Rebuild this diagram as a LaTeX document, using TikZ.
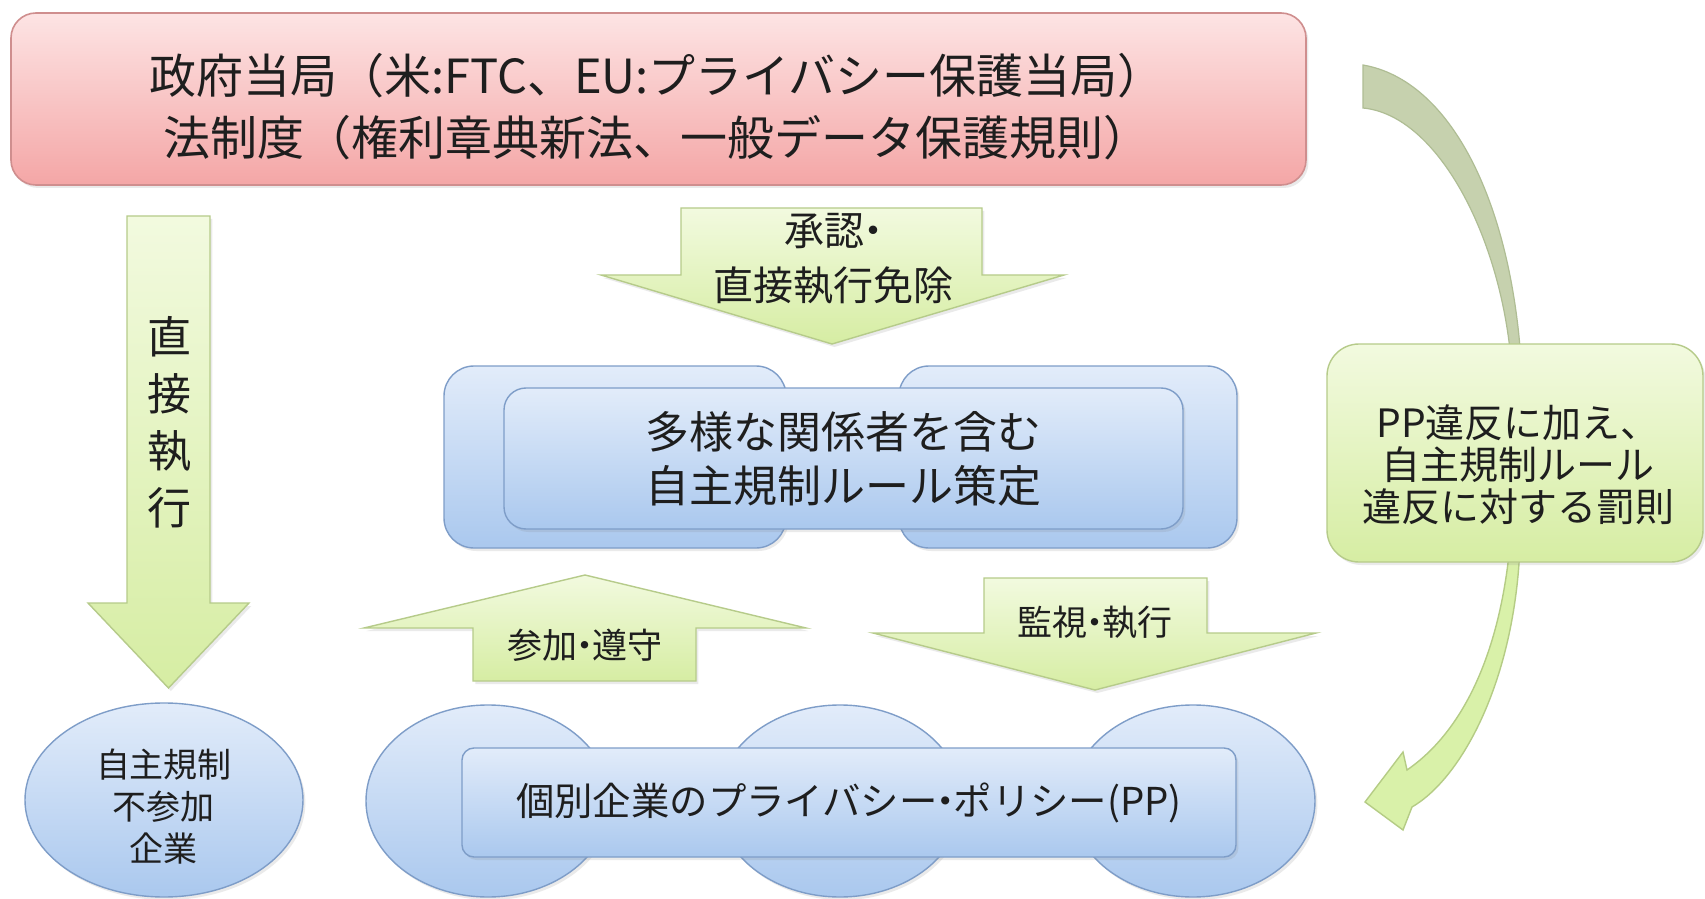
\documentclass[tikz,border=0pt]{standalone}
\usepackage{fontspec}
\setmainfont{Noto Sans CJK JP}
\usetikzlibrary{shapes.geometric,shadows}

\definecolor{pinkT}{HTML}{FDE4E4}
\definecolor{pinkB}{HTML}{F4A6A6}
\definecolor{pinkD}{HTML}{CF8E8E}
\definecolor{grnT}{HTML}{F2FADF}
\definecolor{grnB}{HTML}{D6EDA3}
\definecolor{grnD}{HTML}{B6CB8A}
\definecolor{bluT}{HTML}{E2ECFA}
\definecolor{bluB}{HTML}{AAC8EE}
\definecolor{bluD}{HTML}{7E9DC8}
\definecolor{crvT}{HTML}{C6D1AE}
\definecolor{crvTD}{HTML}{AFBD94}
\definecolor{crvB}{HTML}{D9F1A9}
\definecolor{crvBD}{HTML}{B5CC85}
\definecolor{txt}{HTML}{1E1E1E}

\newcommand{\ndot}{\makebox[0.42em][c]{・}}

\tikzset{
  shd/.style={drop shadow={shadow xshift=1.2pt,shadow yshift=-1.5pt,opacity=0.16}},
  pinkbox/.style={draw=pinkD, line width=0.8pt, top color=pinkT, bottom color=pinkB, rounded corners=12.5pt, shd},
  bluebox/.style={draw=bluD, line width=0.7pt, top color=bluT, bottom color=bluB, shd},
  grnshape/.style={draw=grnD, line width=0.7pt, top color=grnT, bottom color=grnB, shd},
  lbl/.style={text=txt, align=center, inner sep=0pt},
}

\begin{document}
\begin{tikzpicture}[x=0.5pt,y=-0.5pt]
\useasboundingbox[fill=white] (0,0) rectangle (1705,899);

% government box
\node[pinkbox, minimum width=647.5pt, minimum height=86pt] (gov) at (658.5,99) {};
\node[lbl, font=\fontsize{23.5pt}{31pt}\selectfont] (govtext) at (657,107)
  {政府当局（米:FTC、EU:プライバシー保護当局）\\法制度（権利章典新法、一般データ保護規則）};

% curved arrow (upper part, greyish)
\fill[crvT, draw=crvTD, line width=0.6pt]
  (1363,65) .. controls (1450,80) and (1510,200) .. (1521,360)
  -- (1511,360) .. controls (1500,235) and (1437,115) .. (1363,108) -- cycle;
% curved arrow (lower part, with head)
\fill[crvB, draw=crvBD, line width=0.7pt]
  (1510,545) .. controls (1500,650) and (1465,730) .. (1407,770)
  -- (1403,752) -- (1365,802) -- (1403,830) -- (1412,807)
  .. controls (1462,778) and (1515,680) .. (1520,545) -- cycle;

% direct enforcement arrow
\draw[grnshape] (127,216) -- (210,216) -- (210,603) -- (249,603) -- (168.5,688)
  -- (88,603) -- (127,603) -- cycle;
\node[lbl, font=\fontsize{22pt}{28.5pt}\selectfont] (direct) at (169,422) {直\\接\\執\\行};

% approval arrow
\draw[grnshape] (681,208) -- (982,208) -- (982,275) -- (1064,275) -- (832,344)
  -- (601,275) -- (681,275) -- cycle;
\node[lbl, font=\fontsize{20pt}{27.5pt}\selectfont] (approve) at (833,259) {承認\ndot\\直接執行免除};

% self-regulation group
\node[bluebox, rounded corners=15pt, minimum width=171pt, minimum height=91pt] (srL) at (615,457) {};
\node[bluebox, rounded corners=15pt, minimum width=169pt, minimum height=91pt] (srR) at (1068,457) {};
\node[bluebox, rounded corners=11pt, minimum width=339.5pt, minimum height=70.5pt,
      lbl, font=\fontsize{22pt}{27pt}\selectfont] (sr) at (843.5,458.5)
  {多様な関係者を含む\\自主規制ルール策定};

% participation arrow (up)
\draw[grnshape] (473,681) -- (473,628) -- (364,628) -- (585,575) -- (806,628)
  -- (696,628) -- (696,681) -- cycle;
\node[lbl, font=\fontsize{17.5pt}{20pt}\selectfont] (join) at (585,645) {参加\ndot 遵守};

% monitoring arrow (down)
\draw[grnshape] (984,578) -- (1207,578) -- (1207,633) -- (1316,633) -- (1095,690)
  -- (873,633) -- (984,633) -- cycle;
\node[lbl, font=\fontsize{17.5pt}{20pt}\selectfont] (monitor) at (1095,622) {監視\ndot 執行};

% non-participating companies
\node[ellipse, bluebox, minimum width=139pt, minimum height=97pt] (nonpart) at (164,800) {};
\node[lbl, font=\fontsize{17pt}{21pt}\selectfont] (nonparttext) at (164,807)
  {自主規制\\不参加\\企業};

% companies and privacy policy
\node[ellipse, bluebox, minimum width=122pt, minimum height=96pt] (c1) at (488,801) {};
\node[ellipse, bluebox, minimum width=122pt, minimum height=96pt] (c2) at (840,801) {};
\node[ellipse, bluebox, minimum width=122pt, minimum height=96pt] (c3) at (1193,801) {};
\node[bluebox, rounded corners=6pt, minimum width=387pt, minimum height=54.5pt,
      lbl, font=\fontsize{19.2pt}{22pt}\selectfont] (pp) at (849,802.5)
  {個別企業のプライバシー\ndot ポリシー(PP)};

% penalty box
\node[grnshape, rounded corners=16pt, minimum width=188pt, minimum height=109pt] (pen) at (1515,453) {};
\node[lbl, font=\fontsize{19.5pt}{21pt}\selectfont] (pentext) at (1518,465)
  {PP違反に加え、\\自主規制ルール\\違反に対する罰則};
\end{tikzpicture}
\end{document}
